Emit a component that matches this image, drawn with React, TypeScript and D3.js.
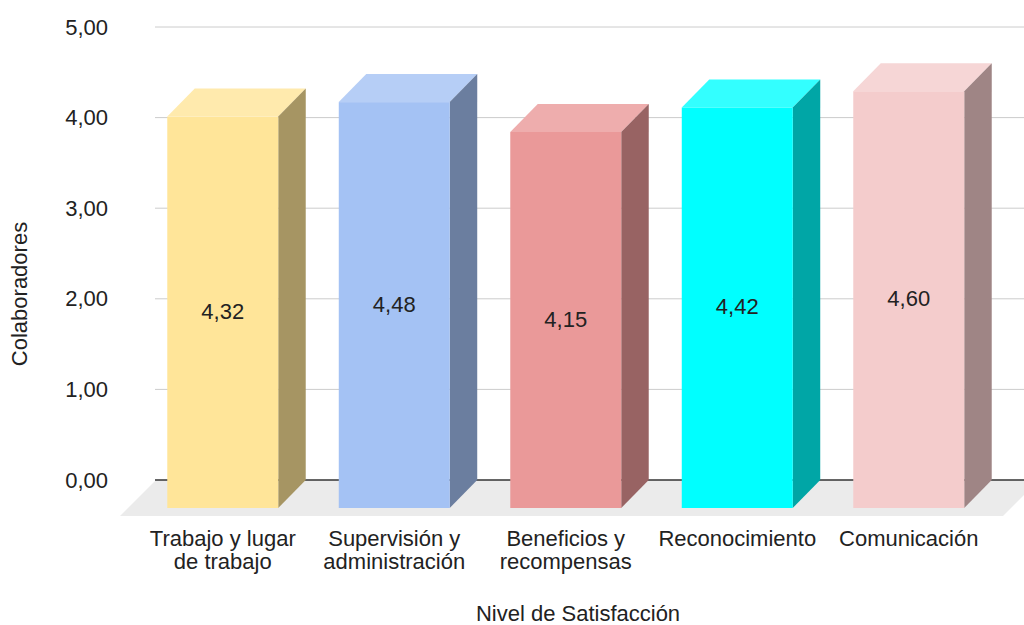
import * as d3 from "d3";

const categories = [
  "Trabajo y lugar de trabajo",
  "Supervisión y administración",
  "Beneficios y recompensas",
  "Reconocimiento",
  "Comunicación",
];
const categoryLines = [
  ["Trabajo y lugar", "de trabajo"],
  ["Supervisión y", "administración"],
  ["Beneficios y", "recompensas"],
  ["Reconocimiento"],
  ["Comunicación"],
];
const values = [4.32, 4.48, 4.15, 4.42, 4.6];
const barColors = ["#FFE599", "#A4C2F4", "#EA9999", "#00FFFF", "#F4CCCC"];
const yTicks = [0, 1, 2, 3, 4, 5];

const W = 1024;
const H = 625;
const FONT = "'Liberation Sans', Arial, sans-serif";

// 3d offsets: bars are pushed forward (left/down) from the back plane
const depthX = 27.5;
const depthY = 28;
const floorDepth = 36;

const fmt = (v: number) => v.toFixed(2).replace(".", ",");

export default function App() {
  const y = d3.scaleLinear().domain([0, 5]).range([480, 27]);
  const x = d3
    .scaleBand<string>()
    .domain(categories)
    .range([164.5, 1022])
    .paddingInner(0.353)
    .paddingOuter(0.1765);
  const bw = x.bandwidth();
  const y0 = y(0);

  const side = (c: string) => {
    const r = d3.rgb(c);
    return d3.rgb(r.r * 0.65, r.g * 0.65, r.b * 0.65).formatHex();
  };
  const top = (c: string) => d3.interpolateRgb(c, "#ffffff")(0.2);

  const gridLeft = 155;
  const floorLeft = 156;
  const floorRight = 1039;

  return (
    <div style={{ position: "fixed", left: 0, top: 0 }}>
      <svg width={W} height={H} style={{ display: "block", background: "#fff" }} fontFamily={FONT}>
        {/* floor */}
        <polygon
          points={[
            [floorLeft, y0],
            [floorRight, y0],
            [floorRight - floorDepth, y0 + floorDepth],
            [floorLeft - floorDepth, y0 + floorDepth],
          ]
            .map((p) => p.join(","))
            .join(" ")}
          fill="#ebebeb"
        />

        {/* gridlines */}
        {yTicks.map((t) => (
          <line
            key={t}
            x1={gridLeft}
            x2={W}
            y1={y(t)}
            y2={y(t)}
            stroke={t === 0 ? "#333" : "#cccccc"}
            strokeWidth={t === 0 ? 1.5 : 1}
          />
        ))}

        {/* y tick labels */}
        {yTicks.map((t) => (
          <text key={t} x={108} y={y(t) + 7.5} textAnchor="end" fontSize={22} fill="#222">
            {fmt(t)}
          </text>
        ))}

        {/* bars */}
        {categories.map((c, i) => {
          const bx = x(c) as number;
          const by = y(values[i]);
          const fx = bx - depthX;
          const fTop = by + depthY;
          const fBot = y0 + depthY;
          const col = barColors[i];
          return (
            <g key={c}>
              <polygon
                points={`${fx},${fTop} ${fx + bw},${fTop} ${bx + bw},${by} ${bx},${by}`}
                fill={top(col)}
              />
              <polygon
                points={`${fx + bw},${fTop} ${bx + bw},${by} ${bx + bw},${y0} ${fx + bw},${fBot}`}
                fill={side(col)}
              />
              <rect x={fx} y={fTop} width={bw} height={fBot - fTop} fill={col} />
              <text
                x={fx + bw / 2}
                y={(fTop + fBot) / 2 + 6.5}
                textAnchor="middle"
                fontSize={22}
                fill="#222"
              >
                {fmt(values[i])}
              </text>
              <text textAnchor="middle" fontSize={22} fill="#222">
                {categoryLines[i].map((ln, k) => (
                  <tspan key={k} x={fx + bw / 2} y={546 + k * 23}>
                    {ln}
                  </tspan>
                ))}
              </text>
            </g>
          );
        })}

        {/* axis titles */}
        <text x={578} y={621} textAnchor="middle" fontSize={22} fill="#222">
          Nivel de Satisfacción
        </text>
        <text transform="translate(27,294) rotate(-90)" textAnchor="middle" fontSize={22} fill="#222">
          Colaboradores
        </text>
      </svg>
    </div>
  );
}
